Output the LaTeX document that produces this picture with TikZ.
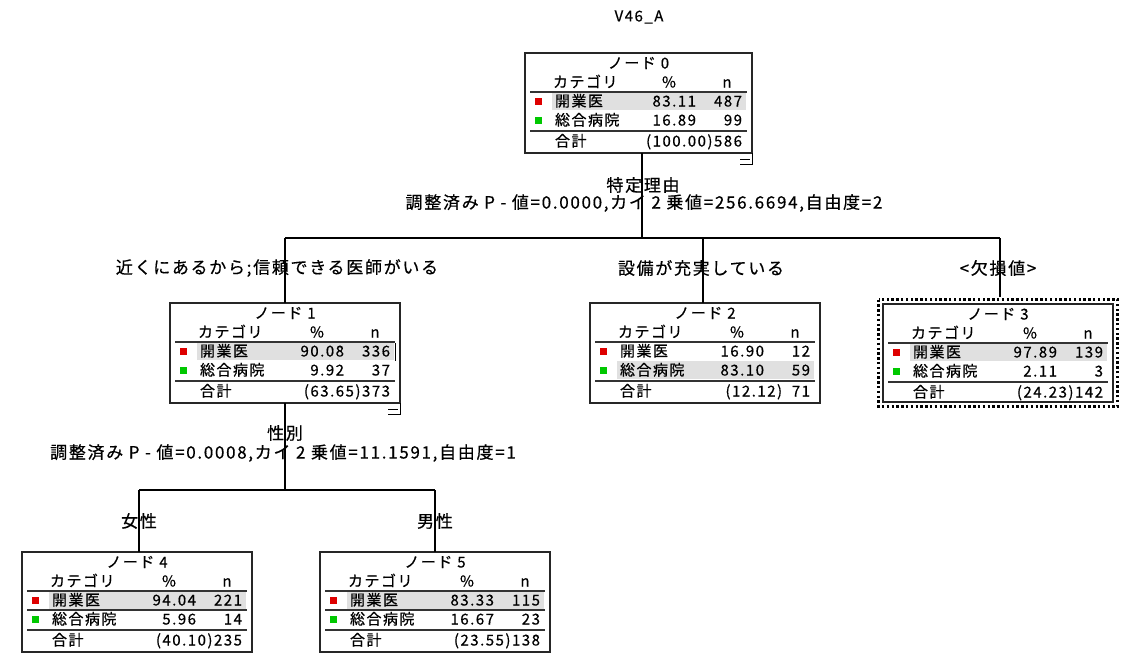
\documentclass[tikz,border=0pt]{standalone}
\usepackage{fontspec}
\newfontfamily\jpn[LetterSpace=10,FakeBold=0.5]{Noto Sans CJK JP}
\newfontfamily\jpl[LetterSpace=10,FakeBold=0.5]{Noto Sans CJK JP}
\usetikzlibrary{calc}
\definecolor{catA}{RGB}{222,0,0}
\definecolor{catB}{RGB}{0,200,0}
\tikzset{
  ntext/.style={font=\jpn\fontsize{15}{15}\selectfont, inner sep=0pt, outer sep=0pt},
  ltext/.style={font=\jpl\fontsize{17}{17}\selectfont, inner sep=0pt},
  boxline/.style={draw=black!85, line width=1.3pt, inner sep=0pt, outer sep=0pt, minimum height=100, anchor=north west},
  hrule/.style={line width=1.2pt, draw=black!80},
  conn/.style={line width=1.1pt, draw=black},
  hlfill/.style={fill=black!12},
}
\newcommand\tcont[8]{%
  \fill[hlfill] ($(#1.north west)+(27,#8-9)$) rectangle ($(#1.north east)+(-6,#8+9)$);
  \node[ntext,anchor=base] (#1-id) at ($(#1.north)+(0,15.5)$) {ノード #2};
  \node[ntext,anchor=base west] (#1-hc) at ($(#1.north west)+(28,34.5)$) {カテゴリ};
  \node[ntext,anchor=base] (#1-hp) at ($(#1.north east)+(-83,34.5)$) {\%};
  \node[ntext,anchor=base] (#1-hn) at ($(#1.north east)+(-25,34.5)$) {n};
  \draw[hrule] ($(#1.north west)+(5,39)$) -- ($(#1.north east)+(-5,39)$);
  \fill[catA] ($(#1.north west)+(9.5,44.5)$) rectangle +(7,7);
  \node[ntext,anchor=base west] (#1-a) at ($(#1.north west)+(30,53.5)$) {開業医};
  \node[ntext,anchor=base east] (#1-ap) at ($(#1.north east)+(-56,53.5)$) {#3};
  \node[ntext,anchor=base east] (#1-an) at ($(#1.north east)+(-10,53.5)$) {#4};
  \fill[catB] ($(#1.north west)+(9.5,63.5)$) rectangle +(7,7);
  \node[ntext,anchor=base west] (#1-b) at ($(#1.north west)+(30,72.5)$) {総合病院};
  \node[ntext,anchor=base east] (#1-bp) at ($(#1.north east)+(-56,72.5)$) {#5};
  \node[ntext,anchor=base east] (#1-bn) at ($(#1.north east)+(-10,72.5)$) {#6};
  \draw[hrule] ($(#1.north west)+(5,78)$) -- ($(#1.north east)+(-5,78)$);
  \node[ntext,anchor=base west] (#1-t) at ($(#1.north west)+(30,93.5)$) {合計};
  \node[ntext,anchor=base east] (#1-tv) at ($(#1.north east)+(-10,93.5)$) {#7};
}
\newcommand\collapseicon[1]{%
  \draw[line width=1pt] ($(#1.south east)+(-12,6)$) -- ($(#1.south east)+(-2,6)$);
  \draw[line width=1pt] ($(#1.south east)+(-12,11)$) -- ($(#1.south east)+(0,11)$) -- (#1.south east);
}
\begin{document}
\begin{tikzpicture}[x=1pt,y=-1pt]
\useasboundingbox[fill=white] (0,0) rectangle (1135,659);

\node[font=\jpn\fontsize{15}{15}\selectfont, inner sep=0pt] (title) at (639,17) {V46\_A};

% boxes
\node[boxline, minimum width=227] (n0) at (525,53) {};
\node[boxline, minimum width=230] (n1) at (170,303) {};
\node[boxline, minimum width=230] (n2) at (590,303) {};
\node[boxline, minimum width=230, minimum height=98] (n3) at (883,304) {};
\node[boxline, minimum width=230] (n4) at (22,552) {};
\node[boxline, minimum width=230] (n5) at (320,552) {};
\draw[line width=2.6pt, dash pattern=on 2.4pt off 2.4pt] ($(n3.north west)+(-4.5,-4.5)$) rectangle ($(n3.south east)+(4.5,4.5)$);

% split coordinates
\coordinate (j0) at (642,238);
\coordinate (b1) at (285,238);
\coordinate (b2) at (703,238);
\coordinate (b3) at (1000,238);
\coordinate (j1) at (285,490);
\coordinate (b4) at (139,490);
\coordinate (b5) at (435,490);

% connectors
\draw[conn] (j0 |- n0.south) -- (j0);
\draw[conn] (b1) -- (b3);
\draw[conn] (b1) -- (b1 |- n1.north);
\draw[conn] (b2) -- (b2 |- n2.north);
\draw[conn] (b3) -- ($(b3 |- n3.north)+(0,-7)$);
\draw[conn] (j1 |- n1.south) -- (j1);
\draw[conn] (b4) -- (b5);
\draw[conn] (b4) -- (b4 |- n4.north);
\draw[conn] (b5) -- (b5 |- n5.north);

% contents
\tcont{n0}{0}{83.11}{487}{16.89}{99}{(100.00)586}{48}
\tcont{n1}{1}{90.08}{336}{9.92}{37}{(63.65)373}{48}
\tcont{n2}{2}{16.90}{12}{83.10}{59}{(12.12)\ \ 71}{67}
\tcont{n3}{3}{97.89}{139}{2.11}{3}{(24.23)142}{48}
\tcont{n4}{4}{94.04}{221}{5.96}{14}{(40.10)235}{48}
\tcont{n5}{5}{83.33}{115}{16.67}{23}{(23.55)138}{48}
\draw[hrule] ($(n4.north west)+(5,58)$) -- ($(n4.north east)+(-5,58)$);
\draw[hrule] ($(n5.north west)+(5,58)$) -- ($(n5.north east)+(-5,58)$);
\draw[line width=1pt] ($(n1.north east)+(-5,40)$) -- ($(n1.north east)+(-5,58)$);
\collapseicon{n0}
\collapseicon{n1}

% labels
\node[ltext] (v0) at (643,185) {特定理由};
\node[ltext] (s0) at (644,203) {調整済み P - 値=0.0000,カイ 2 乗値=256.6694,自由度=2};
\node[ltext] (l1) at (277,268) {近くにあるから;信頼できる医師がいる};
\node[ltext] (l2) at (701,268) {設備が充実している};
\node[ltext] (l3) at (998,268) {<欠損値>};
\node[ltext] (v1) at (285,433) {性別};
\node[ltext] (s1) at (283,453) {調整済み P - 値=0.0008,カイ 2 乗値=11.1591,自由度=1};
\node[ltext] (l4) at (139,521) {女性};
\node[ltext] (l5) at (435,521) {男性};
\end{tikzpicture}
\end{document}
